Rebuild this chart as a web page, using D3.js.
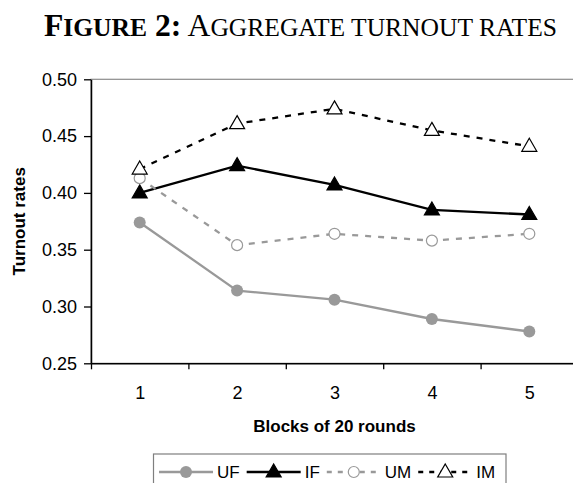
<!DOCTYPE html>
<html>
<head>
<meta charset="utf-8">
<script src="https://cdn.jsdelivr.net/npm/d3@7"></script>
<style>
  body { margin: 0; background: #fff; }
  svg { display: block; }
  text { font-family: Arial, "Liberation Sans", sans-serif; fill: #000; }
</style>
</head>
<body>
<div class="chart"></div>
<script>
// Aggregate turnout rates by block of rounds

var blocks = [1, 2, 3, 4, 5];
var yTicks = [0.25, 0.30, 0.35, 0.40, 0.45, 0.50];

var ufRates = [0.374, 0.314, 0.306, 0.289, 0.278];
var ifRates = [0.400, 0.424, 0.407, 0.385, 0.381];
var umRates = [0.413, 0.354, 0.364, 0.358, 0.364];
var imRates = [0.421, 0.461, 0.474, 0.455, 0.441];

var seriesNames = ["UF", "IF", "UM", "IM"];

var svgWidth = 573;
var svgHeight = 483;

var margin = {
  top: 79.3,
  left: 91,
  bottom: 363.3,
  right: 578
};

var svg = d3.select(".chart")
  .append("svg")
  .attr("width", svgWidth)
  .attr("height", svgHeight);

// title, hand-made small caps in a serif face
var titleParts = [
  { t: "F", big: true, bold: true },
  { t: "IGURE", big: false, bold: true },
  { t: " 2:", big: true, bold: true },
  { t: " A", big: true, bold: false },
  { t: "GGREGATE TURNOUT RATES", big: false, bold: false }
];

var title = svg.append("text")
  .attr("x", 300.5)
  .attr("y", 36)
  .attr("text-anchor", "middle")
  .attr("textLength", 513)
  .attr("lengthAdjust", "spacingAndGlyphs")
  .style("font-family", "'Times New Roman', 'Liberation Serif', serif");

title.selectAll("tspan")
  .data(titleParts)
  .enter()
  .append("tspan")
  .style("font-size", d => d.big ? "31px" : "25px")
  .style("font-weight", d => d.bold ? "bold" : "normal")
  .style("white-space", "pre")
  .text(d => d.t);

// scales: categories sit in the middle of equal slots
var xScale = d3.scaleLinear()
  .domain([0.5, blocks.length + 0.5])
  .range([margin.left, margin.right]);

var yScale = d3.scaleLinear()
  .domain([0.25, 0.50])
  .range([margin.bottom, margin.top]);

// plot area border (grey)
svg.append("rect")
  .attr("x", margin.left)
  .attr("y", margin.top)
  .attr("width", margin.right - margin.left)
  .attr("height", margin.bottom - margin.top)
  .attr("fill", "none")
  .attr("stroke", "#8c8c8c")
  .attr("stroke-width", 1.2);

// y axis
var leftAxis = d3.axisLeft(yScale)
  .tickValues(yTicks)
  .tickFormat(d3.format(".2f"))
  .tickSize(7)
  .tickSizeOuter(0)
  .tickPadding(7);

var yAxis = svg.append("g")
  .attr("transform", `translate(${margin.left}, 0)`)
  .call(leftAxis);

// x axis: ticks between categories
var bottomAxis = d3.axisBottom(xScale)
  .tickValues(d3.range(0.5, blocks.length + 1, 1))
  .tickFormat("")
  .tickSize(6)
  .tickSizeOuter(0);

var xAxis = svg.append("g")
  .attr("transform", `translate(0, ${margin.bottom})`)
  .call(bottomAxis);

// category labels
var labelAxis = d3.axisBottom(xScale)
  .tickValues(blocks)
  .tickFormat(d3.format("d"))
  .tickSize(0)
  .tickPadding(23);

var xLabels = svg.append("g")
  .attr("transform", `translate(0, ${margin.bottom})`)
  .call(labelAxis);
xLabels.select(".domain").remove();

[yAxis, xAxis].forEach(function(ax) {
  ax.select(".domain").attr("stroke", "#000").attr("stroke-width", 1.5);
  ax.selectAll(".tick line").attr("stroke", "#000").attr("stroke-width", 1.3);
});
svg.selectAll(".tick text")
  .style("font-family", "Arial, 'Liberation Sans', sans-serif")
  .style("font-size", "18px")
  .attr("fill", "#000");

// axis titles
svg.append("text")
  .attr("transform", `translate(25, ${(margin.top + margin.bottom) / 2}) rotate(-90)`)
  .attr("text-anchor", "middle")
  .style("font-size", "17px")
  .style("font-weight", "bold")
  .text("Turnout rates");

svg.append("text")
  .attr("x", (margin.left + margin.right) / 2)
  .attr("y", 432)
  .attr("text-anchor", "middle")
  .style("font-size", "17px")
  .style("font-weight", "bold")
  .text("Blocks of 20 rounds");

// series styles
var gray = "#999999";
var styles = {
  UF: { values: ufRates, stroke: gray, dash: null, shape: "circle", fill: gray, mstroke: gray },
  IF: { values: ifRates, stroke: "#000", dash: null, shape: "triangle", fill: "#000", mstroke: "#000" },
  UM: { values: umRates, stroke: gray, dash: "6,7", shape: "circle", fill: "#fff", mstroke: gray },
  IM: { values: imRates, stroke: "#000", dash: "6,7", shape: "triangle", fill: "#fff", mstroke: "#000" }
};

var lineGen = d3.line()
  .x((d, i) => xScale(blocks[i]))
  .y(d => yScale(d));

function drawMarker(g, shape, fill, stroke) {
  if (shape === "circle") {
    g.append("circle")
      .attr("r", fill === "#fff" ? 5.5 : 6)
      .attr("fill", fill)
      .attr("stroke", stroke)
      .attr("stroke-width", fill === "#fff" ? 1.2 : 0);
  } else {
    g.append("path")
      .attr("d", "M0,-8L7.5,5L-7.5,5Z")
      .attr("fill", fill)
      .attr("stroke", stroke)
      .attr("stroke-width", 1.2);
  }
}

var plot = svg.append("g");

// draw lines, then markers
seriesNames.forEach(function(name) {
  var s = styles[name];
  plot.append("path")
    .datum(s.values)
    .attr("d", lineGen)
    .attr("fill", "none")
    .attr("stroke", s.stroke)
    .attr("stroke-width", 2.3)
    .attr("stroke-dasharray", s.dash);
});

seriesNames.forEach(function(name) {
  var s = styles[name];
  plot.selectAll(".m-" + name)
    .data(s.values)
    .enter()
    .append("g")
    .attr("class", "m-" + name)
    .attr("transform", (d, i) => `translate(${xScale(blocks[i])}, ${yScale(d)})`)
    .each(function() {
      drawMarker(d3.select(this), s.shape, s.fill, s.mstroke);
    });
});

// legend
var legend = svg.append("g");
legend.append("rect")
  .attr("x", 153.5)
  .attr("y", 454)
  .attr("width", 352.5)
  .attr("height", 40)
  .attr("fill", "#fff")
  .attr("stroke", "#7f7f7f")
  .attr("stroke-width", 1.2);

var lx = 159;
var ly = 472;
seriesNames.forEach(function(name) {
  var s = styles[name];
  legend.append("line")
    .attr("x1", lx)
    .attr("x2", lx + 54)
    .attr("y1", ly)
    .attr("y2", ly)
    .attr("stroke", s.stroke)
    .attr("stroke-width", 2.3)
    .attr("stroke-dasharray", s.dash ? "5,6" : null);
  var mg = legend.append("g").attr("transform", `translate(${lx + 27}, ${ly})`);
  drawMarker(mg, s.shape, s.fill, s.mstroke);
  var t = legend.append("text")
    .attr("x", lx + 58)
    .attr("y", ly + 6)
    .style("font-size", "17px")
    .text(name);
  lx = lx + 58 + t.node().getComputedTextLength() + 7;
});
</script>
</body>
</html>
